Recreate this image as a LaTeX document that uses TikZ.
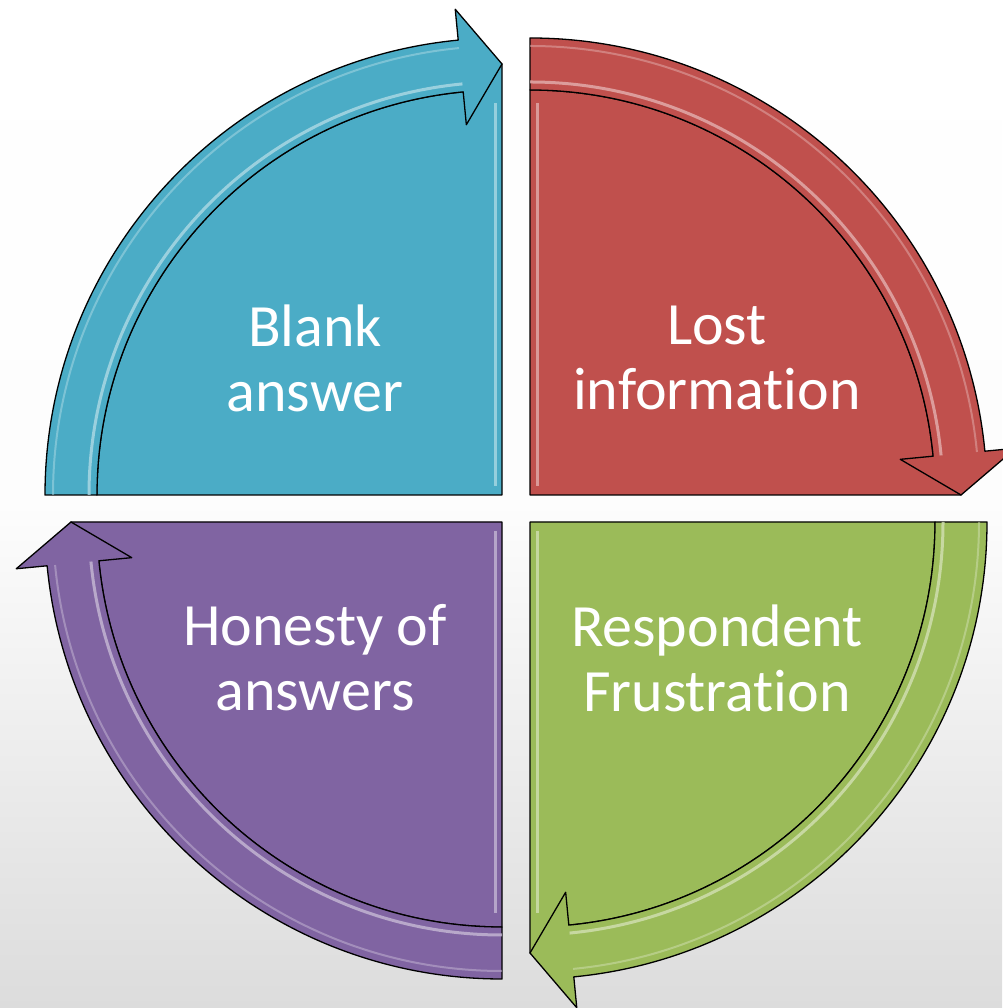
\documentclass[tikz,border=0pt]{standalone}
\usepackage{fontspec}
\setmainfont{Carlito}[Ligatures={NoCommon,NoContextual}]
\definecolor{cblue}{HTML}{4BACC6}
\definecolor{cred}{HTML}{C0504D}
\definecolor{cgreen}{HTML}{9BBB59}
\definecolor{cpurple}{HTML}{8064A2}
\definecolor{bggray}{HTML}{DCDCDC}
\newcommand\petal[4]{%
  \begin{scope}[shift={(#1,#2)}]
    \pgfmathsetmacro\aE{#3-90}\pgfmathsetmacro\aB{#3-84.5}
    \filldraw[fill=#4, edge] (0,0) -- (#3:405) arc[start angle=#3, end angle=\aB, radius=405]
      -- (\aE:431) -- cycle;
    \filldraw[fill=#4, edge] (#3:405) -- (#3:457) arc[start angle=#3, end angle=\aB, radius=457]
      -- (\aB:488) -- (\aE:431) -- (\aB:372) -- (\aB:405)
      arc[start angle=\aB, end angle=#3, radius=405] -- cycle;
    \draw[#4!45!white, line width=3pt, opacity=0.8] (#3:413) arc[start angle=#3, end angle=\aB, radius=413];
    \draw[#4!45!white, line width=2pt, opacity=0.5] (#3:449) arc[start angle=#3, end angle=\aB, radius=449];
  \end{scope}}
\begin{document}
\begin{tikzpicture}[x=1pt, y=1pt,
  edge/.style={draw=black, line width=1.3pt, line join=round},
  lbl/.style={text=white, align=center, font=\fontsize{60}{65}\selectfont, inner sep=0pt},
  hl/.style={line width=3pt, opacity=0.7}]
  \shade[top color=white, bottom color=bggray, middle color=white!94!bggray] (0,0) rectangle (1002,1008);
  \useasboundingbox (0,0) rectangle (1002,1008);
  % blue (top-left), red (top-right), green (bottom-right), purple (bottom-left)
  \petal{502}{513}{180}{cblue}
  \petal{530}{513}{90}{cred}
  \petal{530}{486}{0}{cgreen}
  \petal{502}{486}{-90}{cpurple}
  % highlights on vertical edges
  \coordinate (hb1) at (495,522); \coordinate (hb2) at (495,905);
  \coordinate (hr1) at (537,522); \coordinate (hr2) at (537,905);
  \coordinate (hg1) at (537,477); \coordinate (hg2) at (537,95);
  \coordinate (hp1) at (495,477); \coordinate (hp2) at (495,95);
  \draw[hl, cblue!40!white] (hb1) -- (hb2);
  \draw[hl, cred!40!white] (hr1) -- (hr2);
  \draw[hl, cgreen!40!white] (hg1) -- (hg2);
  \draw[hl, cpurple!40!white] (hp1) -- (hp2);
  % labels
  \node[lbl] (tb) at (315,650) {Blank\\answer};
  \node[lbl] (tr) at (717,650) {Lost\\informat\kern0pt ion};
  \node[lbl] (tg) at (717,350) {Respondent\\Frustrat\kern0pt ion};
  \node[lbl] (tp) at (315,350) {Honesty of\\answers};
\end{tikzpicture}
\end{document}
